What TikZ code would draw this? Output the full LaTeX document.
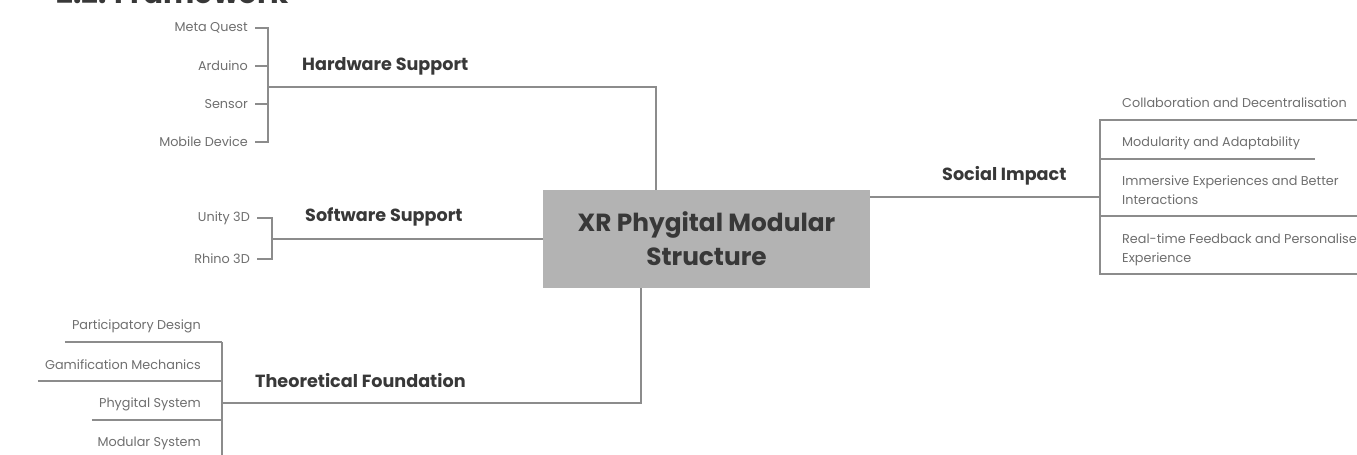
\documentclass[tikz,border=0pt]{standalone}
\usepackage{fontspec}
\setmainfont{Poppins}
\usetikzlibrary{calc}
\definecolor{linegray}{HTML}{8C8C8C}
\definecolor{leafgray}{HTML}{6E6E6E}
\definecolor{headgray}{HTML}{383838}
\definecolor{hubfill}{HTML}{B3B3B3}
\tikzset{
  wire/.style={draw=linegray, line width=1.3pt},
  leaf/.style={text=leafgray, font=\fontsize{12.8}{15}\selectfont, inner sep=0pt},
  head/.style={text=headgray, font=\fontsize{17.6}{20}\bfseries, inner sep=0pt, anchor=west},
  hubbox/.style={fill=hubfill, text=headgray, align=center, inner sep=0pt,
    font=\fontsize{24.8}{34}\bfseries, minimum width=327pt, minimum height=98pt},
}
\begin{document}
\begin{tikzpicture}[x=1pt,y=-1pt]
\useasboundingbox (0,0) rectangle (1357,455);
\clip (0,0) rectangle (1357,455);

% section heading, cut by the top edge
\node[text=headgray, font=\fontsize{29.5}{31}\bfseries, anchor=base west, inner sep=0pt] (title) at (56,3) {2.2. Framework};

% central box
\node[hubbox] (hub) at (706.5,239) {XR Phygital Modular\\Structure};

% ---------- Hardware Support ----------
\node[head] (hw) at (302,66) {Hardware Support};
\node[leaf, anchor=east] (mq) at (248,28) {Meta Quest};
\node[leaf, anchor=east] (ar) at (248,66) {Arduino};
\node[leaf, anchor=east] (se) at (248,104) {Sensor};
\node[leaf, anchor=east] (md) at (248,142) {Mobile Device};
\coordinate (hwbar) at (268,87);
\coordinate (hwj) at (656,87);
\draw[wire] ($(mq.east)+(7,0)$) -- (mq.east -| hwbar) -- (md.east -| hwbar) -- ($(md.east)+(7,0)$);
\draw[wire] ($(ar.east)+(7,0)$) -- (ar.east -| hwbar);
\draw[wire] ($(se.east)+(7,0)$) -- (se.east -| hwbar);
\draw[wire] (hwbar) -- (hwj) -- (hwj |- hub.north);

% ---------- Software Support ----------
\node[head] (sw) at (305,217) {Software Support};
\node[leaf, anchor=east] (un) at (250,218) {Unity 3D};
\node[leaf, anchor=east] (rh) at (250,259) {Rhino 3D};
\coordinate (swbar) at (272,239);
\draw[wire] ($(un.east)+(7,0)$) -- (un.east -| swbar) -- (rh.east -| swbar) -- ($(rh.east)+(7,0)$);
\draw[wire] (swbar) -- (swbar -| hub.west);

% ---------- Theoretical Foundation ----------
\node[head] (tf) at (255,381) {Theoretical Foundation};
\node[leaf, anchor=east] (pd) at (201,326) {Participatory Design};
\node[leaf, anchor=east] (gm) at (201,365) {Gamification Mechanics};
\node[leaf, anchor=east] (ps) at (201,404) {Phygital System};
\node[leaf, anchor=east] (ms) at (201,443) {Modular System};
\coordinate (tfj) at (641,403);
\coordinate (tfbar) at (222,403);
\coordinate (tfu1) at (222,342);
\coordinate (tfu2) at (222,381);
\coordinate (tfu3) at (222,420);
\coordinate (tfu4) at (222,459);
\draw[wire] (tfj |- hub.south) -- (tfj) -- (tfbar);
\draw[wire] (tfu1) -- (222,470);
\draw[wire] ($(pd.west |- tfu1)+(-7,0)$) -- (tfu1);
\draw[wire] ($(gm.west |- tfu2)+(-7,0)$) -- (tfu2);
\draw[wire] ($(ps.west |- tfu3)+(-7,0)$) -- (tfu3);
\draw[wire] ($(ms.west |- tfu4)+(-7,0)$) -- (tfu4);

% ---------- Social Impact ----------
\node[head] (si) at (942,176) {Social Impact};
\coordinate (sij) at (1100,197);
\draw[wire] (hub.east |- sij) -- (sij);
\node[leaf, anchor=west] (cd) at (1122,103) {Collaboration and Decentralisation};
\node[leaf, anchor=west] (ma) at (1122,143) {Modularity and Adaptability};
\node[leaf, anchor=north west, align=left, font=\fontsize{12.8}{19}\selectfont] (ie) at (1122,176) {Immersive Experiences and Better\\Interactions};
\node[leaf, anchor=north west, align=left, font=\fontsize{12.8}{19}\selectfont] (rf) at (1122,234) {Real-time Feedback and Personalised\\Experience};
\coordinate (sb1) at (1100,120);
\coordinate (sb2) at (1100,159);
\coordinate (sb3) at (1100,216);
\coordinate (sb4) at (1100,274);
\draw[wire] (1380,120) -- (sb1) -- (sb4) -- (1380,274);
\draw[wire] (sb2) -- (1315,159);
\draw[wire] (sb3) -- (1380,216);
\end{tikzpicture}
\end{document}
